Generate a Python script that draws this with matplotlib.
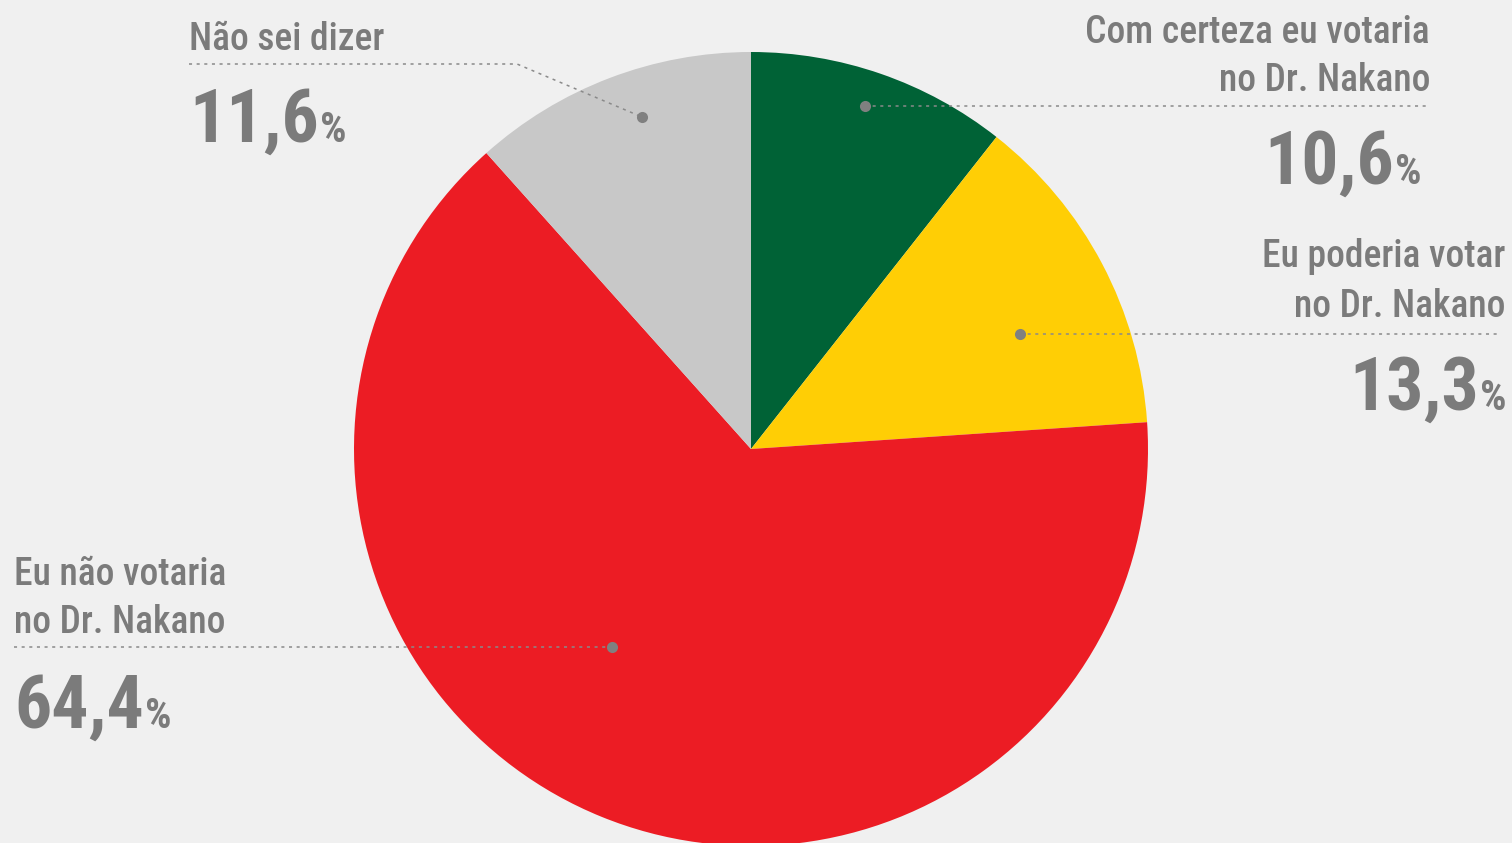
import matplotlib
matplotlib.use("Agg")
import matplotlib.pyplot as plt
from matplotlib import font_manager

# data
labels = ["Com certeza eu votaria\nno Dr. Nakano", "Eu poderia votar\nno Dr. Nakano",
          "Eu não votaria\nno Dr. Nakano", "Não sei dizer"]
values = [10.6, 13.3, 64.4, 11.6]
value_text = ["10,6", "13,3", "64,4", "11,6"]
colors = ["#006236", "#FFCE05", "#EC1C24", "#C8C8C8"]

BG = "#F0F0F0"
TXT = "#7B7B7B"
W, H = 1512, 843

names = {f.name for f in font_manager.fontManager.ttflist}
family = "DejaVu Sans"
for cand in ["Liberation Sans Narrow", "Roboto Condensed", "Open Sans Condensed",
             "DejaVu Sans Condensed", "Noto Sans Condensed"]:
    if cand in names:
        family = cand
        break

fig = plt.figure(figsize=(W / 100, H / 100), dpi=100, facecolor=BG)
ax = fig.add_axes([0, 0, 1, 1])
ax.set_facecolor(BG)


def Y(py):
    return H - py


ax.pie(values, colors=colors, startangle=90, counterclock=False,
       center=(751, Y(449)), radius=397, frame=True,
       wedgeprops=dict(linewidth=0))
ax.set_xlim(0, W)
ax.set_ylim(0, H)
ax.set_aspect("equal")
ax.axis("off")

fig.canvas.draw()
renderer = fig.canvas.get_renderer()


def label(lines, x, baselines, ha):
    for line, b in zip(lines, baselines):
        ax.text(x, Y(b), line, ha=ha, va="baseline", fontsize=27, color=TXT,
                family=family, weight="medium")


def value(txt, x, base, ha):
    if ha == "left":
        t = ax.text(x, Y(base), txt, ha="left", va="baseline", fontsize=53,
                    color=TXT, family=family, weight="bold")
        bb = t.get_window_extent(renderer)
        ax.text(bb.x1 + 1, Y(base), "%", ha="left", va="baseline", fontsize=30,
                color=TXT, family=family, weight="bold")
    else:
        p = ax.text(x, Y(base), "%", ha="right", va="baseline", fontsize=30,
                    color=TXT, family=family, weight="bold")
        bb = p.get_window_extent(renderer)
        ax.text(bb.x0 - 1, Y(base), txt, ha="right", va="baseline", fontsize=53,
                color=TXT, family=family, weight="bold")


def leader(xs, ys, dot):
    ax.plot(xs, [Y(v) for v in ys], color="#8A8A8A", lw=1.1, ls=(0, (2, 3)),
            solid_capstyle="butt")
    ax.plot(dot[0], Y(dot[1]), "o", color="#808080", ms=8, mec="none")


# Com certeza
label(labels[0].split("\n"), 1430, [43, 91], "right")
leader([865, 1430], [106, 106], (865, 106))
value(value_text[0], 1422, 184, "right")

# Eu poderia
label(labels[1].split("\n"), 1505, [267, 317], "right")
leader([1020, 1498], [334, 334], (1020, 334))
value(value_text[1], 1507, 410, "right")

# Eu não votaria
label(labels[2].split("\n"), 14, [585, 633], "left")
leader([14, 612], [647, 647], (612, 647))
value(value_text[2], 14, 728, "left")

# Não sei dizer
label(labels[3].split("\n"), 189, [50], "left")
leader([189, 517, 642], [64, 64, 117], (642, 117))
value(value_text[3], 189, 142, "left")

fig.savefig("out.png", dpi=100, facecolor=BG)
